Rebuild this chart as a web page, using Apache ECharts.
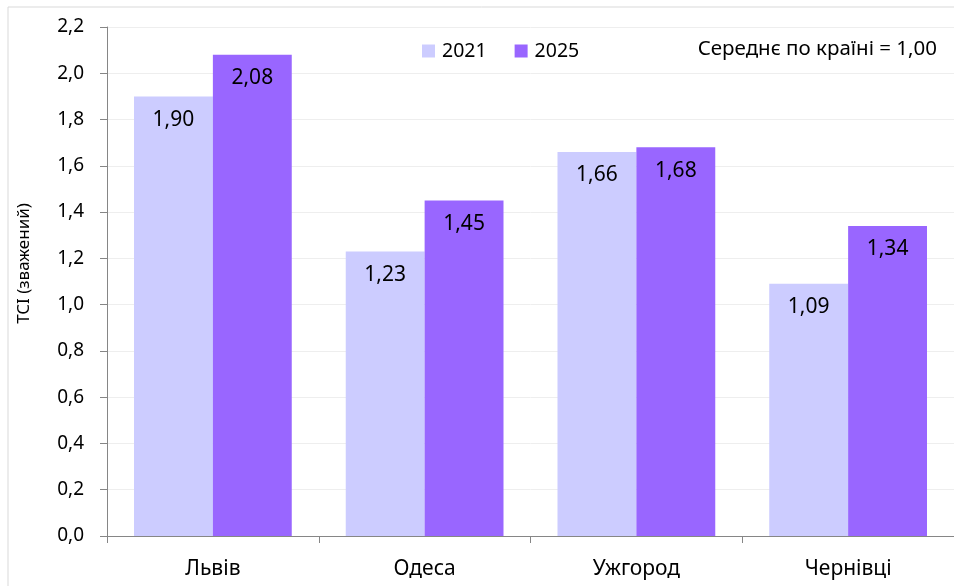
<!DOCTYPE html>
<html><head><meta charset="utf-8">
<script src="https://cdn.jsdelivr.net/npm/echarts@6/dist/echarts.min.js"></script>
<style>html,body{margin:0;padding:0;background:#fff}#c{width:954px;height:586px}</style>
</head><body><div id="c"></div>
<script>
const categories = ['Львів', 'Одеса', 'Ужгород', 'Чернівці'];
const seriesNames = ['2021', '2025'];
const values2021 = [1.90, 1.23, 1.66, 1.09];
const values2025 = [2.08, 1.45, 1.68, 1.34];
const yTicks = [0, 0.2, 0.4, 0.6, 0.8, 1.0, 1.2, 1.4, 1.6, 1.8, 2.0, 2.2];
const noteText = 'Середнє по країні = 1,00';
const axisTitle = 'TCI (зважений)';

const FONT = '"Noto Sans", "DejaVu Sans", sans-serif';
const fmt = v => v.toFixed(2).replace('.', ',');
const chart = echarts.init(document.getElementById('c'));
const label = {
  show: true, position: 'insideTop', distance: 13, color: '#000',
  fontFamily: FONT, fontSize: 21,
  formatter: p => fmt(p.value)
};
chart.setOption({
  animation: false,
  textStyle: { fontFamily: FONT },
  graphic: [
    { type: 'rect', shape: { x: 8, y: 7, width: 960, height: 600 },
      style: { fill: 'none', stroke: '#d9d9d9', lineWidth: 1 }, z: -1 },
    { type: 'text', x: 937, y: 49,
      style: { text: noteText, fill: '#000', fontSize: 20.5, fontFamily: FONT, align: 'right', verticalAlign: 'middle' } }
  ],
  legend: {
    left: 417, top: 36, itemWidth: 13, itemHeight: 13, itemGap: 28,
    icon: 'rect', data: seriesNames,
    textStyle: { fontSize: 19.5, color: '#000', fontFamily: FONT, padding: [0, 0, 0, 2] }
  },
  grid: { left: 107, top: 27, width: 848, height: 509, containLabel: false },
  xAxis: {
    type: 'category', data: categories,
    axisLine: { lineStyle: { color: '#868686', width: 1 } },
    axisTick: { show: true, length: 7, interval: 0, lineStyle: { color: '#868686' } },
    axisLabel: { color: '#000', fontSize: 21, margin: 23, fontFamily: FONT }
  },
  yAxis: {
    type: 'value', min: yTicks[0], max: yTicks[yTicks.length - 1], interval: 0.2,
    name: axisTitle, nameLocation: 'middle', nameGap: 74, nameRotate: 90,
    nameTextStyle: { color: '#000', fontSize: 17, fontFamily: FONT, padding: [0, 0, 0, 36] },
    axisLine: { show: true, lineStyle: { color: '#868686' } },
    axisTick: { show: true, length: 7, lineStyle: { color: '#868686' } },
    splitLine: { lineStyle: { color: '#eeeeee' } },
    axisLabel: { color: '#000', fontSize: 19, margin: 23, fontFamily: FONT,
      formatter: v => v.toFixed(1).replace('.', ',') }
  },
  series: [
    { name: seriesNames[0], type: 'bar', data: values2021, barGap: '0%', barCategoryGap: '25.5%',
      itemStyle: { color: '#CCCCFF' }, label },
    { name: seriesNames[1], type: 'bar', data: values2025,
      itemStyle: { color: '#9966FF' }, label }
  ]
});
</script></body></html>
